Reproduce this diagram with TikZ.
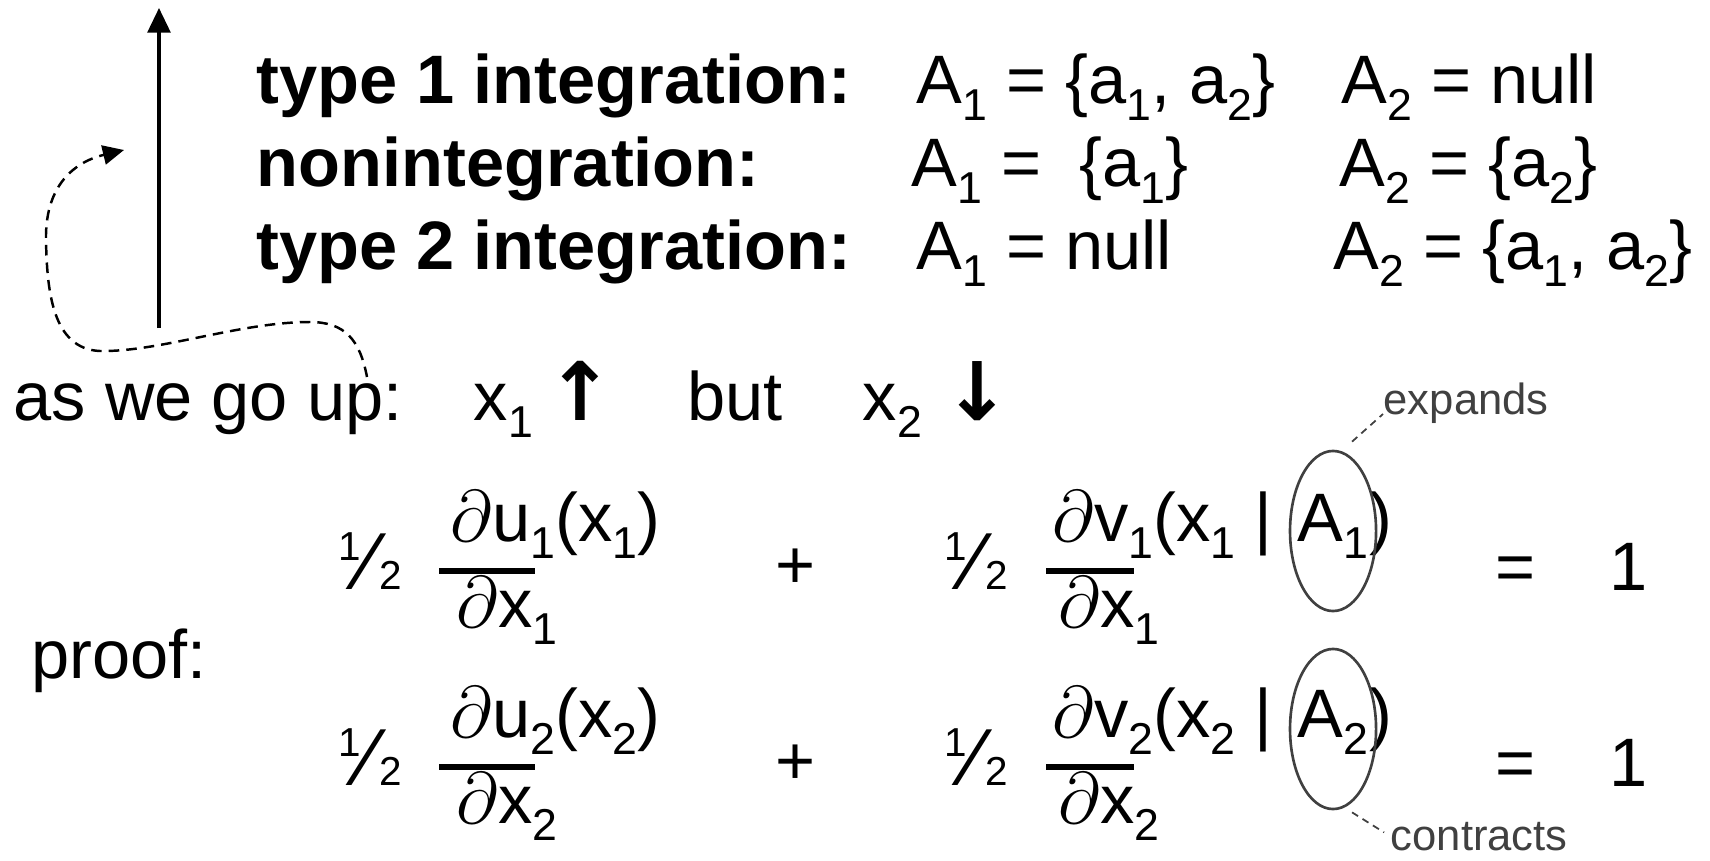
\documentclass[tikz,border=0pt]{standalone}
\usepackage{fontspec}
\setmainfont{Liberation Sans}
\newfontfamily\arrowfont{DejaVu Sans}
\usetikzlibrary{shapes.geometric, arrows.meta, positioning}
\definecolor{remarkgray}{RGB}{64, 64, 64}
\newcommand{\sbs}[1]{\raisebox{-0.25em}{\fontsize{12.7}{13}\selectfont #1}}
\newcommand{\half}{{\fontsize{11.5}{12}\selectfont\raisebox{8pt}{1}}\kern0.4pt%
  {\fontsize{23}{23}\selectfont ⁄}\kern1pt{\fontsize{11.5}{12}\selectfont 2}}
\tikzstyle{txt}       = [inner sep=0pt, anchor=base west, font=\fontsize{19.5}{23}\selectfont]
\tikzstyle{heading}   = [txt, font=\fontsize{19.5}{23}\selectfont\bfseries]
\tikzstyle{updown}    = [txt, font=\fontsize{23}{23}\selectfont\arrowfont\bfseries]
\tikzstyle{remark}    = [inner sep=0pt, anchor=base west, text=remarkgray,
                         font=\fontsize{12.4}{14}\selectfont]
\tikzstyle{ring}      = [ellipse, draw=remarkgray, line width=0.75pt, minimum width=0.86cm,
                         minimum height=1.6cm, inner sep=0pt]
\tikzstyle{fracbar}   = [rectangle, fill=black, minimum height=1.5pt, inner sep=0pt]
\tikzstyle{arrow}     = [-{Triangle[length=7pt, width=6.5pt]}, line width=0.9pt]
\tikzstyle{backarrow} = [-{Triangle[length=6pt, width=5.5pt]}, line width=0.7pt,
                         dash pattern=on 3pt off 2pt]
\tikzstyle{lead}      = [draw=remarkgray, line width=0.5pt, dash pattern=on 2pt off 1.5pt]

\begin{document}
\begin{tikzpicture}[x=0.01cm, y=-0.01cm]
  \useasboundingbox (0,0) rectangle (1710,860);

  % Levels of integration
  \coordinate (lo) at (159,328);
  \coordinate (hi) at (159,8);
  \draw [arrow] (lo) -- (hi);

  \node (type1)  [heading] at (256,103) {type 1 integration:};
  \node (nonint) [heading] at (256,186) {nonintegration:};
  \node (type2)  [heading] at (256,269) {type 2 integration:};

  \node (t1a) [txt] at (916,103)  {A\sbs{1} = \{a\sbs{1}, a\sbs{2}\}};
  \node (t1b) [txt] at (1341,103) {A\sbs{2} = null};
  \node (n1a) [txt] at (911,186)  {A\sbs{1} =\ \ \{a\sbs{1}\}};
  \node (n1b) [txt] at (1339,186) {A\sbs{2} = \{a\sbs{2}\}};
  \node (t2a) [txt] at (916,269)  {A\sbs{1} = null};
  \node (t2b) [txt] at (1333,269) {A\sbs{2} = \{a\sbs{1}, a\sbs{2}\}};

  % Going up
  \node (goup) [txt] at (13,420)  {as we go up:};
  \node (x1)   [txt] at (473,420) {x\sbs{1}};
  \node (up1)  [updown, base right=0.12cm of x1] {↑};
  \node (but)  [txt] at (687,420) {but};
  \node (x2)   [txt] at (862,420) {x\sbs{2}};
  \node (dn2)  [updown, base right=0.2cm of x2] {↓};

  \coordinate (dstart) at (367,377);
  \coordinate (dend)   at (124,150);
  \draw [backarrow] (dstart) .. controls (360,340) and (345,322) .. (310,322)
        .. controls (240,322) and (160,352) .. (100,351)
        .. controls (52,349) and (47,290) .. (46,240)
        .. controls (45,190) and (70,163) .. (dend);

  % Proof
  \node (proof) [txt] at (31,678) {proof:};

  \node (h1)  [txt] at (338,589) {\half};
  \node (un1) [txt] at (450,541) {$\partial$u\sbs{1}(x\sbs{1})};
  \node (ub1) [fracbar, minimum width=0.95cm] at (487,571) {};
  \node (ud1) [txt] at (456,627) {$\partial$x\sbs{1}};
  \node (pl1) [txt] at (775,588) {+};
  \node (g1)  [txt] at (944,589) {\half};
  \node (vn1) [txt] at (1052,541) {$\partial$v\sbs{1}(x\sbs{1} |};
  \node (a1)  [txt, base right=0.24cm of vn1] {A\sbs{1}};
  \node (cl1) [txt, base right=0pt of a1] {)};
  \node (vb1) [fracbar, minimum width=0.88cm] at (1090,571) {};
  \node (vd1) [txt] at (1058,627) {$\partial$x\sbs{1}};
  \node (eq1) [txt] at (1495,590) {=};
  \node (one1) [txt] at (1609,590) {1};

  \node (h2)  [txt] at (338,785) {\half};
  \node (un2) [txt] at (450,737) {$\partial$u\sbs{2}(x\sbs{2})};
  \node (ub2) [fracbar, minimum width=0.95cm] at (487,767) {};
  \node (ud2) [txt] at (456,823) {$\partial$x\sbs{2}};
  \node (pl2) [txt] at (775,784) {+};
  \node (g2)  [txt] at (944,785) {\half};
  \node (vn2) [txt] at (1052,737) {$\partial$v\sbs{2}(x\sbs{2} |};
  \node (a2)  [txt, base right=0.24cm of vn2] {A\sbs{2}};
  \node (cl2) [txt, base right=0pt of a2] {)};
  \node (vb2) [fracbar, minimum width=0.88cm] at (1090,767) {};
  \node (vd2) [txt] at (1058,823) {$\partial$x\sbs{2}};
  \node (eq2) [txt] at (1495,786) {=};
  \node (one2) [txt] at (1609,786) {1};

  % Circled sets
  \node (r1) [ring, yshift=-0.05cm] at (a1.center) {};
  \node (r2) [ring, yshift=-0.07cm] at (a2.center) {};
  \node (expands)   [remark] at (1383,414) {expands};
  \node (contracts) [remark] at (1390,850) {contracts};
  \draw [lead] ([xshift=0.19cm, yshift=0.08cm]r1.north) -- (expands.base west);
  \draw [lead, shorten >=0.07cm] ([xshift=0.19cm, yshift=-0.02cm]r2.south) -- (contracts.west);
\end{tikzpicture}
\end{document}
